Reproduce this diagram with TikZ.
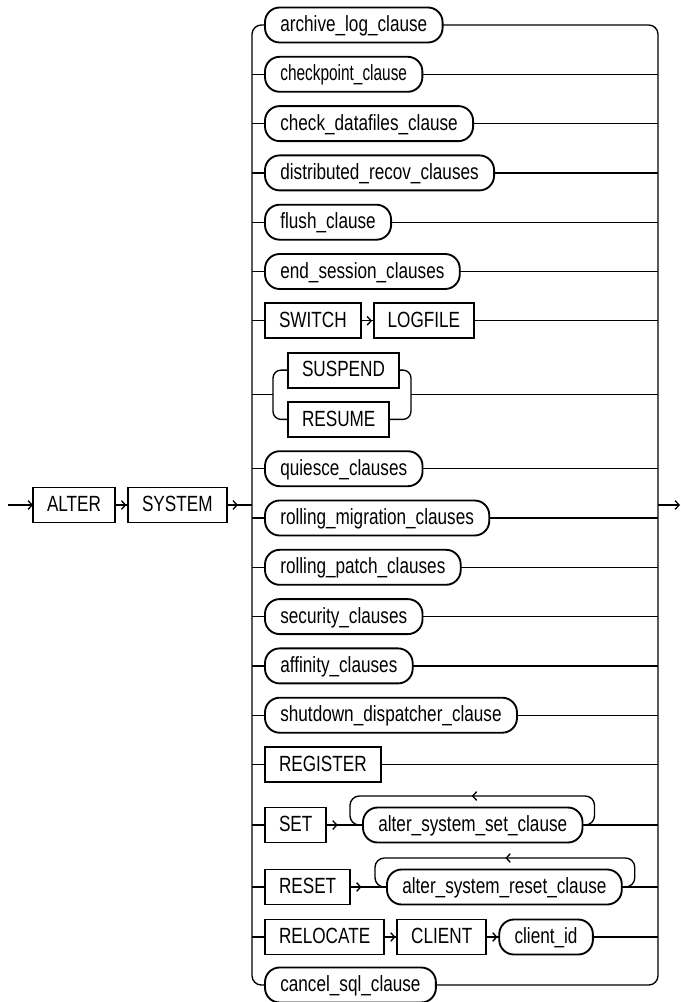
\documentclass[tikz,border=0pt]{standalone}
\usepackage{fontspec}
\newfontfamily\railfont{Liberation Sans}[FakeStretch=0.78]
\newfontfamily\railnarrow{Liberation Sans}[FakeStretch=0.7]
\usetikzlibrary{calc, positioning, arrows.meta, decorations.markings}

\tikzset{
  kw/.style={draw, line width=1.4pt, rectangle, minimum height=26.25pt,
    inner xsep=10.5pt, inner ysep=0pt, outer sep=0pt,
    text height=12pt, text depth=2pt,
    font=\railfont\fontsize{16.5}{18}\selectfont},
  cl/.style={kw, rounded corners=11pt, inner xsep=11.5pt},
  conn/.style={line width=1pt},
  flow/.style={conn, postaction={decorate},
    decoration={markings, mark=at position 8.5pt with {\arrow{>}}}},
  back/.style={conn, rounded corners=7pt, postaction={decorate},
    decoration={markings, mark=at position 0.5 with {\arrow{>}}}},
}

\begin{document}
\begin{tikzpicture}[x=0.75pt, y=-0.75pt, >={Straight Barb[length=3pt,width=6.5pt]}]
    \useasboundingbox (0,0) rectangle (681,1002);

    % =================================================================
    % ALTER SYSTEM and the two rails
    % =================================================================
    \coordinate (entry) at (8,505);
    \coordinate (railL) at (252,505);
    \coordinate (railR) at (658,505);
    \coordinate (exit) at (680,505);

    \node[kw, anchor=west] (alter) at (33,505) {ALTER};
    \node[kw, right=9.75pt of alter] (syst) {SYSTEM};
    \draw[conn, ->] (entry) -- (alter);
    \draw[flow] (alter) -- (syst);
    \draw[flow] (syst) -- (railL);
    \draw[conn, ->] (railR) -- (exit);

    % =================================================================
    % plain clause rows
    % =================================================================
    \foreach \nm/\txt/\yy in {
        arch/archive\_log\_clause/25,
        chkp/{\railnarrow\fontsize{16.5}{18}\selectfont checkpoint\_clause}/74.3,
        chkd/check\_datafiles\_clause/123.6,
        dist/distributed\_recov\_clauses/172.9,
        flsh/flush\_clause/222.2,
        ends/end\_session\_clauses/271.5,
        quie/quiesce\_clauses/468.7,
        rmig/rolling\_migration\_clauses/518,
        rpat/rolling\_patch\_clauses/567.3,
        secu/security\_clauses/616.6,
        affi/affinity\_clauses/665.9,
        shut/shutdown\_dispatcher\_clause/715.2,
        canc/cancel\_sql\_clause/985} {
        \node[cl, anchor=west] (\nm) at (265,\yy) {\txt};
    }

    % keyword rows
    \node[kw, anchor=west] (swit) at (265,320.8) {SWITCH};
    \node[kw, right=9.75pt of swit] (logf) {LOGFILE};
    \draw[flow] (swit) -- (logf);

    \node[kw, anchor=west] (regi) at (265,764.5) {REGISTER};

    % SUSPEND / RESUME choice
    \node[kw, anchor=west] (susp) at (288,370.1) {SUSPEND};
    \node[kw, anchor=west] (resu) at (288,419.4) {RESUME};
    \coordinate (grpL) at (273,394.75);
    \coordinate (grpR) at ([xshift=9pt]susp.east |- grpL);
    \draw[conn, rounded corners=6pt] (susp.west) -| (grpL) |- (resu.west);
    \draw[conn, rounded corners=6pt] (susp.east) -| (grpR) |- (resu.east);
    \draw[conn] (grpL -| railL) -- (grpL);
    \draw[conn] (grpR) -- (grpR -| railR);

    % SET with its loop
    \node[kw, anchor=west] (setk) at (265,825) {SET};
    \node[cl, anchor=west] (setc) at (363,825) {alter\_system\_set\_clause};
    \draw[flow] (setk) -- (setc);
    \draw[back] (setc.east) -- ++(12,0) -- ++(0,-29) -| ($(setc.west)+(-13,0)$) -- (setc.west);

    % RESET with its loop
    \node[kw, anchor=west] (rstk) at (265,887) {RESET};
    \node[cl, anchor=west] (rstc) at (387,887) {alter\_system\_reset\_clause};
    \draw[flow] (rstk) -- (rstc);
    \draw[back] (rstc.east) -- ++(13,0) -- ++(0,-29) -| ($(rstc.west)+(-12,0)$) -- (rstc.west);

    % RELOCATE CLIENT client_id
    \node[kw, anchor=west] (relo) at (265,937) {RELOCATE};
    \node[kw, right=9.75pt of relo] (clnt) {CLIENT};
    \node[cl, right=9.75pt of clnt] (clid) {client\_id};
    \draw[flow] (relo) -- (clnt);
    \draw[flow] (clnt) -- (clid);

    % =================================================================
    % rails and the stubs of each row
    % =================================================================
    \draw[conn, rounded corners=7pt] (arch.west) -| (railL) |- (canc.west);
    \draw[conn, rounded corners=7pt] (arch.east) -| (railR) |- (canc.east);

    \foreach \nm in {chkp, chkd, dist, flsh, ends, swit, quie, rmig, rpat,
                     secu, affi, shut, regi, setk, rstk, relo} {
        \draw[conn] (\nm.west -| railL) -- (\nm.west);
    }
    \foreach \nm in {chkp, chkd, dist, flsh, ends, logf, quie, rmig, rpat,
                     secu, affi, shut, regi, setc, rstc, clid} {
        \draw[conn] (\nm.east) -- (\nm.east -| railR);
    }

\end{tikzpicture}
\end{document}
